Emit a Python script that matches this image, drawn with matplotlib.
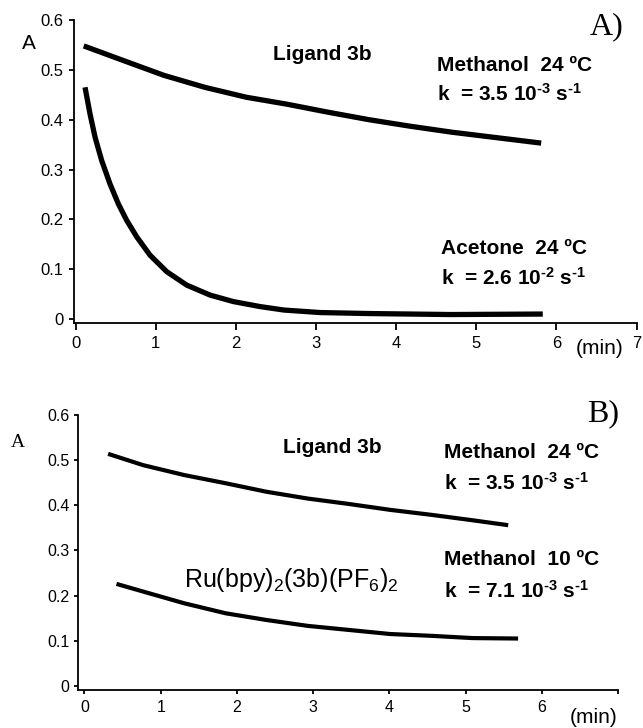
import numpy as np
import matplotlib
matplotlib.use("Agg")
import matplotlib.pyplot as plt

# values
# panel A, ligand 3b
a_meoh_t = [0.10, 0.59, 1.10, 1.61, 2.13, 2.64, 3.15, 3.66, 4.17, 4.69, 5.20, 5.81]
a_meoh_abs = [0.548, 0.519, 0.489, 0.465, 0.445, 0.431, 0.415, 0.400, 0.387, 0.375, 0.365, 0.353]
a_acet_t = [0.116, 0.179, 0.241, 0.324, 0.428, 0.532, 0.636, 0.761, 0.928, 1.136, 1.386,
            1.677, 1.968, 2.30, 2.60, 3.05, 3.66, 4.68, 5.83]
a_acet_abs = [0.465, 0.411, 0.365, 0.318, 0.271, 0.231, 0.198, 0.165, 0.128, 0.095, 0.068,
              0.048, 0.035, 0.025, 0.018, 0.013, 0.011, 0.009, 0.010]

# panel B, ligand 3b vs Ru complex
b_lig_t = [0.31, 0.77, 1.31, 1.85, 2.39, 2.93, 3.47, 4.01, 4.55, 5.09, 5.56]
b_lig_abs = [0.514, 0.489, 0.467, 0.449, 0.430, 0.415, 0.403, 0.390, 0.379, 0.367, 0.356]
b_ru_t = [0.42, 0.77, 1.31, 1.85, 2.39, 2.93, 3.47, 4.01, 4.55, 5.09, 5.69]
b_ru_abs = [0.226, 0.209, 0.183, 0.161, 0.146, 0.133, 0.124, 0.115, 0.111, 0.106, 0.105]

y_ticks = [0, 0.1, 0.2, 0.3, 0.4, 0.5, 0.6]
y_labels = ["0", "0.1", "0.2", "0.3", "0.4", "0.5", "0.6"]
x_ticks = [0, 1, 2, 3, 4, 5, 6, 7]
a_x_labels = ["0", "1", "2", "3", "4", "5", "6", "7"]
b_x_labels = ["0", "1", "2", "3", "4", "5", "6", ""]

sans = "Liberation Sans"
plt.rcParams["font.family"] = [sans, "DejaVu Sans"]
plt.rcParams["mathtext.fontset"] = "custom"
plt.rcParams["mathtext.rm"] = sans
plt.rcParams["mathtext.bf"] = sans + ":bold"
plt.rcParams["mathtext.it"] = sans + ":italic"

fig = plt.figure(figsize=(6.43, 7.28), dpi=100)

lbl = dict(family=sans, fontsize=15, fontweight="bold", color="black")
HY = "\u2010"  # short hyphen for the exponents, the scan has no long minus


def rate(value, exp):
    return "k  = " + value + " 10$^{\\mathbf{" + HY + exp + "}}$ s$^{\\mathbf{" + HY + "1}}$"


def style_axes(ax, tick_size, xpad, ypad, xlen, ylen):
    ax.spines["top"].set_visible(False)
    ax.spines["right"].set_visible(False)
    for s in ["left", "bottom"]:
        ax.spines[s].set_linewidth(1.3)
    ax.tick_params(axis="x", direction="out", length=xlen, width=1.3, pad=xpad, labelsize=tick_size)
    ax.tick_params(axis="y", direction="out", length=ylen, width=1.3, pad=ypad, labelsize=tick_size)
    ax.set_yticks(y_ticks)
    ax.set_yticklabels(y_labels)


# ---- panel A ----
axA = fig.add_axes([0.1148, 0.5563, 0.8751, 0.4162])
axA.plot(a_meoh_t, a_meoh_abs, color="black", lw=3.8, solid_capstyle="butt")
axA.plot(a_acet_t, a_acet_abs, color="black", lw=3.8, solid_capstyle="butt")
axA.set_xlim(-0.024, 7)
axA.set_ylim(-0.008, 0.6)
style_axes(axA, 12, 4, 4, 5, 3.5)
axA.set_xticks(x_ticks)
axA.set_xticklabels(a_x_labels)

axA.text(3.08, 0.53, "Ligand 3b", ha="center", va="center", **lbl)
axA.text(4.51, 0.508, "Methanol  24 ºC", ha="left", va="center", **lbl)
axA.text(4.51, 0.452, rate("3.5", "3"), ha="left", va="center", **lbl)
axA.text(4.56, 0.142, "Acetone  24 ºC", ha="left", va="center", **lbl)
axA.text(4.56, 0.082, rate("2.6", "2"), ha="left", va="center", **lbl)
axA.text(6.84, 0.586, "A)", ha="right", va="center", family="Liberation Serif", fontsize=23, clip_on=False)
axA.text(-0.59, 0.553, "A", ha="center", va="center", fontsize=15, clip_on=False)
axA.text(6.54, -0.06, "(min)", ha="center", va="center", fontsize=15, clip_on=False)

# ---- panel B ----
axB = fig.add_axes([0.1211, 0.0522, 0.8399, 0.3777])
axB.plot(b_lig_t, b_lig_abs, color="black", lw=3.0, solid_capstyle="butt")
axB.plot(b_ru_t, b_ru_abs, color="black", lw=3.0, solid_capstyle="butt")
axB.set_xlim(-0.087, 7)
axB.set_ylim(-0.009, 0.6)
style_axes(axB, 11.5, 4, 3, 3, 3)
axB.set_xticks(x_ticks)
axB.set_xticklabels(b_x_labels)

axB.text(3.25, 0.529, "Ligand 3b", ha="center", va="center", **lbl)
axB.text(4.72, 0.518, "Methanol  24 ºC", ha="left", va="center", **lbl)
axB.text(4.72, 0.449, rate("3.5", "3"), ha="left", va="center", **lbl)
axB.text(4.72, 0.279, "Methanol  10 ºC", ha="left", va="center", **lbl)
axB.text(4.72, 0.21, rate("7.1", "3"), ha="left", va="center", **lbl)
axB.text(1.31, 0.235, r"Ru(bpy)$_2$(3b)(PF$_6$)$_2$", ha="left", va="center",
         family=sans, fontsize=18, color="black")
axB.text(7.02, 0.604, "B)", ha="right", va="center", family="Liberation Serif", fontsize=23, clip_on=False)
axB.text(-0.88, 0.54, "A", ha="center", va="center", family="Liberation Serif", fontsize=14, clip_on=False)
axB.text(6.68, -0.071, "(min)", ha="center", va="center", fontsize=15, clip_on=False)

fig.savefig("out.png", dpi=100)
